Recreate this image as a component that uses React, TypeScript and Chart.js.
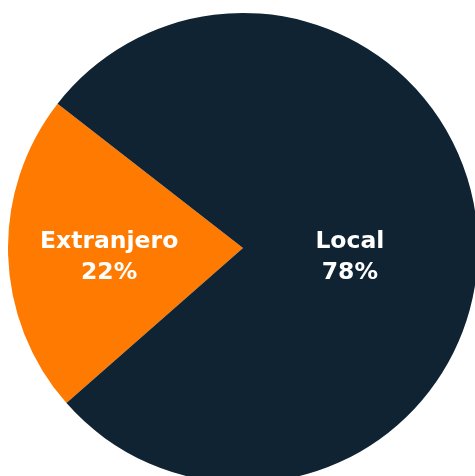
import React, { useEffect, useRef } from "react";
import { Chart, registerables } from "chart.js";

Chart.register(...registerables);

const categories = ["Extranjero", "Local"];
const values = [22, 78];
const colors = ["#ff7a00", "#0f2333"];

const labelPlugin = {
  id: "sliceLabels",
  afterDatasetsDraw(chart: any) {
    const ctx = chart.ctx;
    const meta = chart.getDatasetMeta(0);
    const fracs = [0.57, 0.455];
    ctx.save();
    ctx.fillStyle = "#ffffff";
    ctx.textAlign = "center";
    ctx.textBaseline = "middle";
    ctx.font = "bold 23.5px 'DejaVu Sans'";
    meta.data.forEach((arc: any, i: number) => {
      const { x, y, startAngle, endAngle, outerRadius } = arc.getProps(
        ["x", "y", "startAngle", "endAngle", "outerRadius"],
        true
      );
      const mid = (startAngle + endAngle) / 2;
      const r = outerRadius * fracs[i];
      const cx = x + Math.cos(mid) * r;
      const cy = y;
      ctx.fillText(categories[i], cx, cy - 6);
      ctx.fillText(values[i] + "%", cx, cy + 25);
    });
    ctx.restore();
  },
};

export default function App() {
  const ref = useRef<HTMLCanvasElement>(null);
  useEffect(() => {
    if (!ref.current) return;
    const chart = new Chart(ref.current, {
      type: "pie",
      data: {
        labels: categories,
        datasets: [
          {
            data: values,
            backgroundColor: colors,
            borderWidth: 0,
          },
        ],
      },
      options: {
        animation: false,
        responsive: true,
        maintainAspectRatio: false,
        rotation: 228.7,
        plugins: {
          legend: { display: false },
          tooltip: { enabled: false },
        },
      },
      plugins: [labelPlugin],
    });
    return () => chart.destroy();
  }, []);
  return (
    <div
      style={{
        position: "fixed",
        left: 0,
        top: 0,
        width: 475,
        height: 476,
        overflow: "hidden",
        background: "#fff",
      }}
    >
      <div style={{ position: "absolute", left: 8, top: 8, width: 470, height: 480 }}>
        <canvas ref={ref} />
      </div>
    </div>
  );
}
